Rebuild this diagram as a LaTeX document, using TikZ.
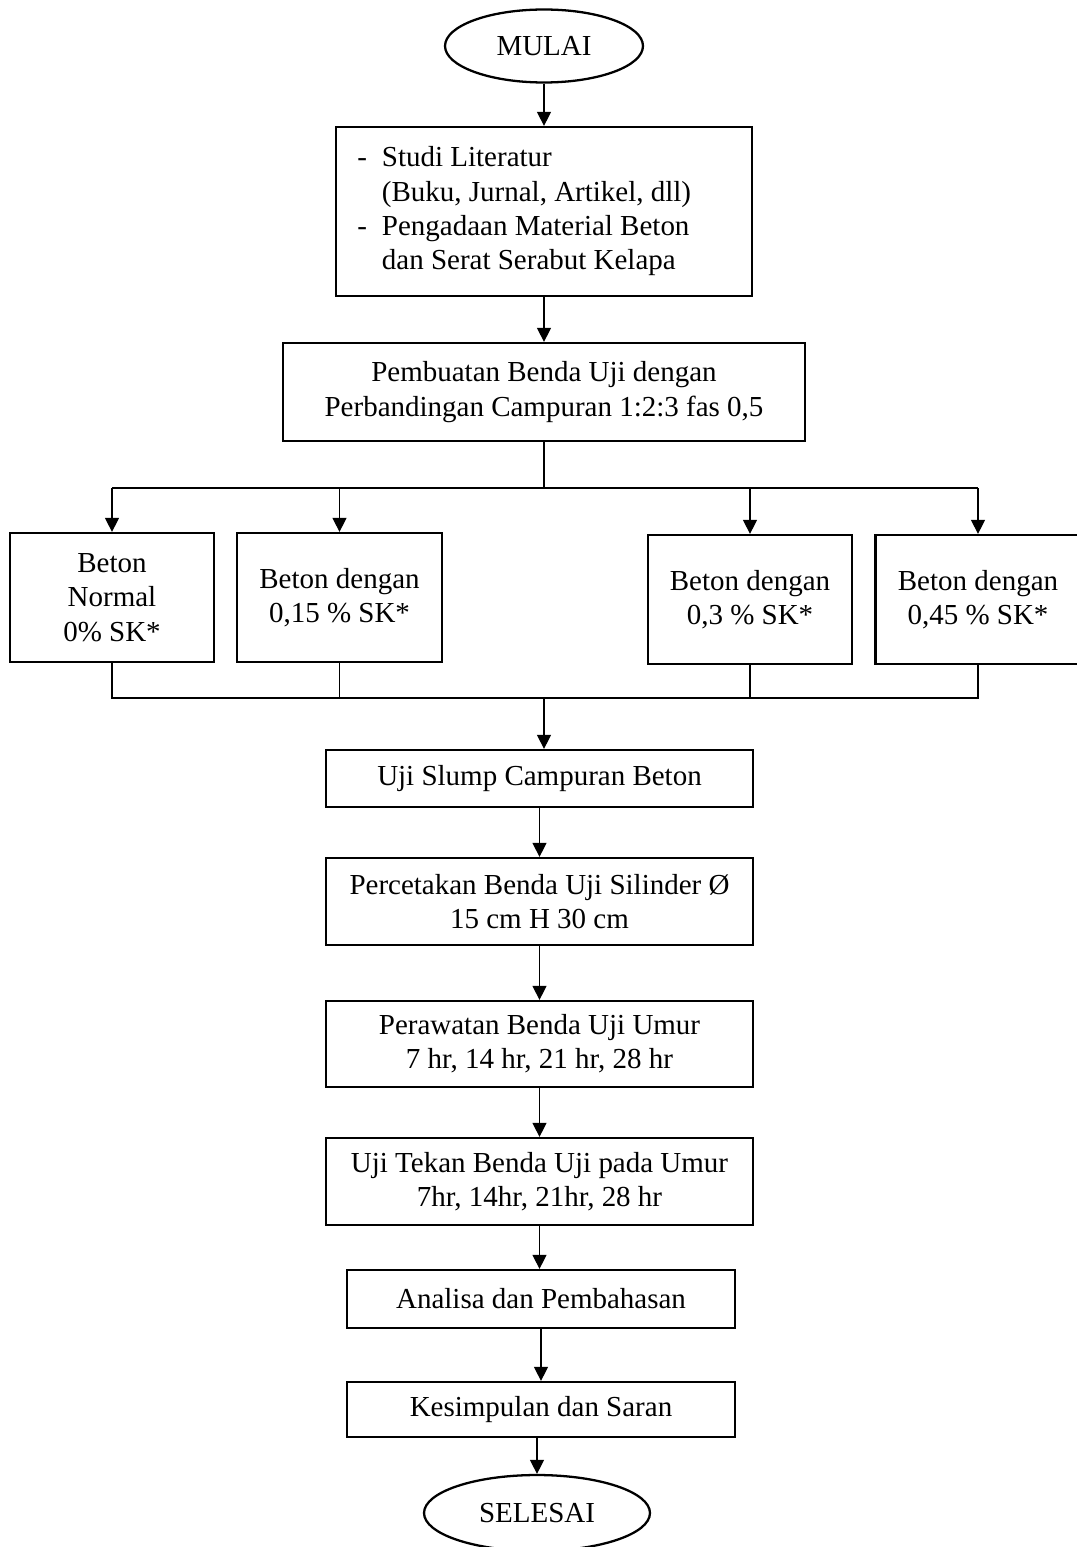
\documentclass[tikz,border=0pt]{standalone}
\usepackage{fontspec}
\setmainfont{Liberation Serif}
\usetikzlibrary{arrows.meta,shapes.geometric}
\begin{document}
\begin{tikzpicture}[x=0.02cm,y=-0.02cm,
  font=\fontsize{16.5}{19.5}\selectfont,
  box/.style={draw,line width=1.3pt,align=center,inner sep=0pt},
  term/.style={draw,ellipse,line width=1.3pt,inner sep=0pt},
  conn/.style={line width=0.75pt},
  arr/.style={conn,-{Triangle[length=8pt,width=8pt]}}]
\useasboundingbox (0,0) rectangle (1076,1547);

% terminals
\node[term,minimum width=3.96cm,minimum height=1.46cm] (start) at (544,46) {MULAI};

% box 1
\node[box,minimum width=8.32cm,minimum height=3.38cm] (b1) at (544,211.5) {};
\node[anchor=west,inner sep=0pt] (b1t) at (357,211.5) {\renewcommand{\arraystretch}{1}%
  \begin{tabular}{@{}l@{\hspace{8.5pt}}l@{}}
  - & Studi Literatur\\
    & (Buku, Jurnal, Artikel, dll)\\
  - & Pengadaan Material Beton\\
    & dan Serat Serabut Kelapa
  \end{tabular}};

% box 2
\node[box,minimum width=10.44cm,minimum height=1.96cm] (b2) at (544,392)
  {Pembuatan Benda Uji dengan\\Perbandingan Campuran 1:2:3 fas 0,5};

% variant boxes
\node[box,minimum width=4.08cm,minimum height=2.58cm] (va) at (112,597.5) {Beton\\Normal\\0\% SK*};
\node[box,minimum width=4.1cm,minimum height=2.58cm] (vb) at (339.5,597.5) {Beton dengan\\0,15 \% SK*};
\node[box,minimum width=4.08cm,minimum height=2.58cm] (vc) at (750,599.5) {Beton dengan\\0,3 \% SK*};
\node[box,minimum width=4.1cm,minimum height=2.58cm] (vd) at (978,599.5) {Beton dengan\\0,45 \% SK*};

% lower chain
\node[box,minimum width=8.54cm,minimum height=1.14cm] (slump) at (539.5,778.5) {Uji Slump Campuran Beton};
\node[box,minimum width=8.54cm,minimum height=1.74cm] (cetak) at (539.5,901.5) {Percetakan Benda Uji Silinder Ø\\15 cm H 30 cm};
\node[box,minimum width=8.54cm,minimum height=1.72cm] (rawat) at (539.5,1044) {Perawatan Benda Uji Umur\\7 hr, 14 hr, 21 hr, 28 hr};
\node[box,minimum width=8.54cm,minimum height=1.74cm] (tekan) at (539.5,1181.5) {Uji Tekan Benda Uji pada Umur\\7hr, 14hr, 21hr, 28 hr};
\node[box,minimum width=7.76cm,minimum height=1.16cm] (anal) at (541,1299) {Analisa dan Pembahasan};
\node[box,minimum width=7.76cm,minimum height=1.1cm] (kes) at (541,1409.5) {Kesimpulan dan Saran};
\node[term,minimum width=4.52cm,minimum height=1.52cm] (stop) at (537,1513) {SELESAI};

% connectors top
\draw[arr] (start) -- (b1);
\draw[arr] (b1) -- (b2);

\coordinate (split) at (544,488);
\coordinate (join) at (544,698);
\draw[conn] (b2.south) -- (split);
\draw[conn] (va.north |- split) -- (vd.north |- split);
\draw[arr] (va.north |- split) -- (va.north);
\draw[arr] (vb.north |- split) -- (vb.north);
\draw[arr] (vc.north |- split) -- (vc.north);
\draw[arr] (vd.north |- split) -- (vd.north);

\draw[conn] (va.south) -- (va.south |- join) -- (vd.south |- join) -- (vd.south);
\draw[conn] (vb.south) -- (vb.south |- join);
\draw[conn] (vc.south) -- (vc.south |- join);
\draw[arr] (join) -- (join |- slump.north);

\draw[arr] (slump) -- (cetak);
\draw[arr] (cetak) -- (rawat);
\draw[arr] (rawat) -- (tekan);
\draw[arr] (tekan.south) -- (tekan.south |- anal.north);
\draw[arr] (anal) -- (kes);
\draw[arr] (kes.south -| stop) -- (stop.north);
\end{tikzpicture}
\end{document}
